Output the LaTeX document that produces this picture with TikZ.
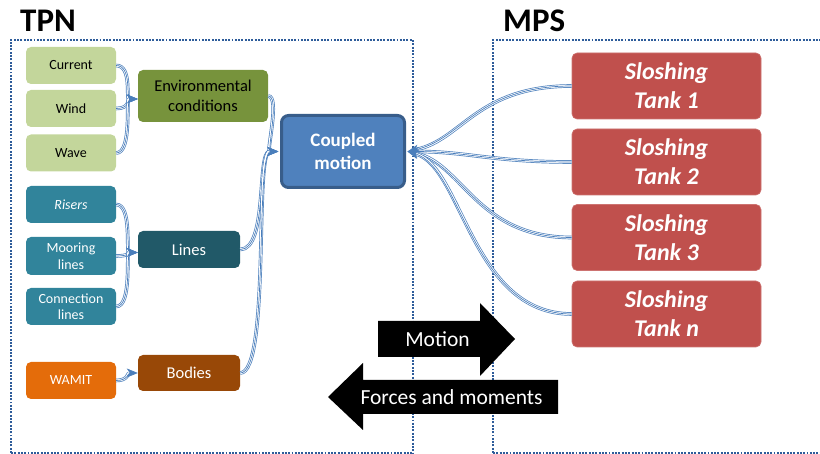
\documentclass[tikz,border=0pt]{standalone}
\usepackage{fontspec}
\setmainfont{Carlito}
\usetikzlibrary{arrows.meta}
\definecolor{lgreen}{HTML}{C3D69B}
\definecolor{dgreen}{HTML}{77933C}
\definecolor{teal}{HTML}{31849B}
\definecolor{dteal}{HTML}{215968}
\definecolor{orng}{HTML}{E46C0A}
\definecolor{brwn}{HTML}{984807}
\definecolor{cpl}{HTML}{4F81BD}
\definecolor{cplb}{HTML}{385D8A}
\definecolor{tank}{HTML}{C0504D}
\definecolor{cblue}{HTML}{4A7EBB}
\definecolor{frame}{HTML}{2E5C9A}
\newcommand\connect[1]{%
  \draw[cblue, line width=3.6pt, shorten >=9pt] #1;
  \draw[white, line width=2.2pt, shorten >=9pt] #1;
  \draw[cblue, line width=0.7pt, -{Stealth[length=11pt,width=9pt,inset=3pt]}] #1;}
\begin{document}
\begin{tikzpicture}[x=1pt,y=-1pt,
  box/.style={rounded corners=5pt, align=center, inner sep=0pt, text=white},
  small/.style={box, minimum width=90pt, minimum height=37pt, font=\fontsize{14}{16.5}\selectfont},
  mid/.style={box, minimum width=102pt, minimum height=37pt, font=\fontsize{16.5}{20}\selectfont},
  tankbox/.style={box, fill=tank, draw=tank!80!white, line width=0.6pt, minimum width=189pt, minimum height=66pt, font=\fontsize{24}{29}\selectfont\bfseries\itshape},
  frm/.style={draw=frame, line width=2.6pt, dash pattern=on 1.9pt off 1.4pt},
  blk/.style={fill=black},
  blktext/.style={text=white, font=\fontsize{21.5}{24}\selectfont, inner sep=0pt}]
\useasboundingbox (0,0) rectangle (820,454);
% frames
\draw[frm] (11,453) -- (11,40) -- (413,40) -- (413,453);
\draw[frm, line width=1.4pt] (11,453) -- (413,453);
\draw[frm] (493,453) -- (493,40) -- (822,40);
\draw[frm, line width=1.4pt] (493,453) -- (822,453);
% titles
\node[anchor=base west, inner sep=0pt, font=\fontsize{33}{36}\selectfont\bfseries] (tpn) at (20,32) {TPN};
\node[anchor=base west, inner sep=0pt, font=\fontsize{33}{36}\selectfont\bfseries] (mps) at (503,32) {MPS};
% left nodes
\node[small, fill=lgreen, text=black] (cur) at (71,65.5) {Current};
\node[small, fill=lgreen, text=black] (wind) at (71,108.5) {Wind};
\node[small, fill=lgreen, text=black] (wave) at (71,153) {Wave};
\node[box, fill=dgreen, text=black, minimum width=130pt, minimum height=52pt, font=\fontsize{16.5}{20}\selectfont] (env) at (203,96) {Environmental\\conditions};
\node[small, fill=teal] (ris) at (71,204.5) {\itshape Risers};
\node[small, fill=teal, minimum height=38pt] (moor) at (71,256) {Mooring\\lines};
\node[small, fill=teal] (conn) at (71,306.5) {Connection\\lines};
\node[mid, fill=dteal] (lines) at (189,249.5) {Lines};
\node[small, fill=orng] (wamit) at (71,380.5) {WAMIT};
\node[mid, fill=brwn, minimum height=36pt] (bod) at (189,373) {Bodies};
\node[box, fill=cpl, draw=cplb, line width=3pt, rounded corners=7pt, minimum width=123pt, minimum height=72pt, font=\fontsize{19}{23}\selectfont\bfseries] (cm) at (343,151.5) {Coupled\\motion};
% tanks
\node[tankbox] (t1) at (666.5,86) {Sloshing\\Tank 1};
\node[tankbox] (t2) at (666.5,162) {Sloshing\\Tank 2};
\node[tankbox] (t3) at (666.5,237.5) {Sloshing\\Tank 3};
\node[tankbox] (tn) at (666.5,314) {Sloshing\\Tank n};
% connectors left
\coordinate (envin) at ([yshift=-3pt]env.west);
\connect{(cur.east) .. controls +(16,0) and +(-12,0) .. (envin)}
\connect{(wind.east) .. controls +(14,0) and +(-10,0) .. (envin)}
\connect{(wave.east) .. controls +(16,0) and +(-12,0) .. (envin)}
\connect{(wamit.east) .. controls +(12,0) and +(-10,0) .. (bod.west)}
\coordinate (risin) at ([yshift=-3pt]lines.west);
\connect{(ris.east) .. controls +(16,0) and +(-12,0) .. (risin)}
\connect{(moor.east) .. controls +(14,0) and +(-10,0) .. (risin)}
\connect{(conn.east) .. controls +(16,0) and +(-12,0) .. (risin)}
\coordinate (cmin) at ([xshift=-1.5pt]cm.west);
\connect{(env.east) .. controls +(12,0) and +(-12,0) .. (cmin)}
\connect{(lines.east) .. controls +(28,0) and +(-22,0) .. (cmin)}
\connect{(bod.east) .. controls +(30,0) and +(-24,0) .. (cmin)}
% connectors right
\coordinate (cmout) at ([xshift=1.5pt]cm.east);
\connect{(t1.west) .. controls +(-95,0) and +(55,-12) .. (cmout)}
\connect{(t2.west) .. controls +(-80,0) and +(60,0) .. (cmout)}
\connect{(t3.west) .. controls +(-95,0) and +(55,12) .. (cmout)}
\connect{(tn.west) .. controls +(-100,0) and +(55,16) .. (cmout)}
% block arrows
\fill[blk] (378,321) -- (480,321) -- (480,303) -- (515,339) -- (480,376) -- (480,357) -- (378,357) -- cycle;
\node[blktext] (mot) at (437.5,339) {Motion};
\fill[blk] (558,380) -- (363,380) -- (363,363) -- (328,397) -- (363,430) -- (363,414) -- (558,414) -- cycle;
\node[blktext] (fm) at (451.5,397) {Forces and moments};
\end{tikzpicture}
\end{document}
